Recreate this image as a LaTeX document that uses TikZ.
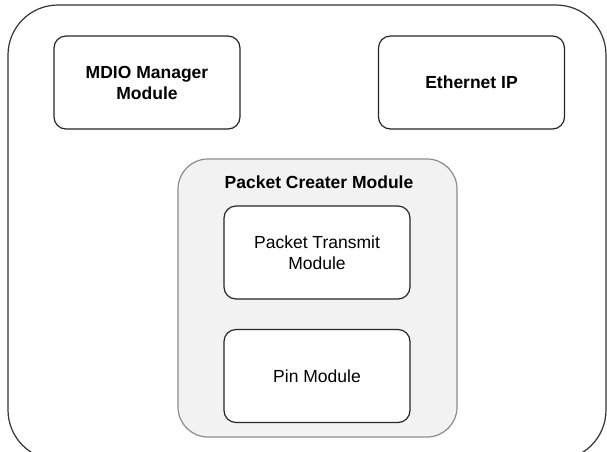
\documentclass[tikz,border=0pt]{standalone}
\usepackage{fontspec}
\setmainfont{Liberation Sans}
\begin{document}
\begin{tikzpicture}[x=1pt,y=-1pt,
  modbox/.style={draw=black!85,line width=1.2pt,rounded corners=12pt,fill=white,
    minimum width=186pt,minimum height=93pt,align=center,inner sep=0pt,
    font=\fontsize{17.5}{21}\selectfont},
  groupbox/.style={draw=black!45,line width=1.2pt,rounded corners=30pt,fill=black!5,
    minimum width=279pt,minimum height=278pt,inner sep=0pt},
  outerbox/.style={draw=black!80,line width=1.2pt,rounded corners=50pt,
    minimum width=598pt,minimum height=455pt,inner sep=0pt}]
\useasboundingbox (0,0) rectangle (607,451);
\clip (0,0) rectangle (607,451);
\node[outerbox] (outer) at (307,232.5) {};
\node[modbox,font=\fontsize{17.5}{21}\selectfont\bfseries] (mdio) at (147,82.5) {MDIO Manager\\Module};
\node[modbox,font=\fontsize{17.5}{21}\selectfont\bfseries] (eth) at (471.5,82.5) {Ethernet IP};
\node[groupbox] (pcm) at (317.5,298) {};
\node[font=\fontsize{17.5}{21}\selectfont\bfseries,inner sep=0pt] (pctitle) at (319,182) {Packet Creater Module};
\node[modbox] (ptm) at (317,252.5) {Packet Transmit\\Module};
\node[modbox] (pin) at (317,376) {Pin Module};
\end{tikzpicture}
\end{document}
